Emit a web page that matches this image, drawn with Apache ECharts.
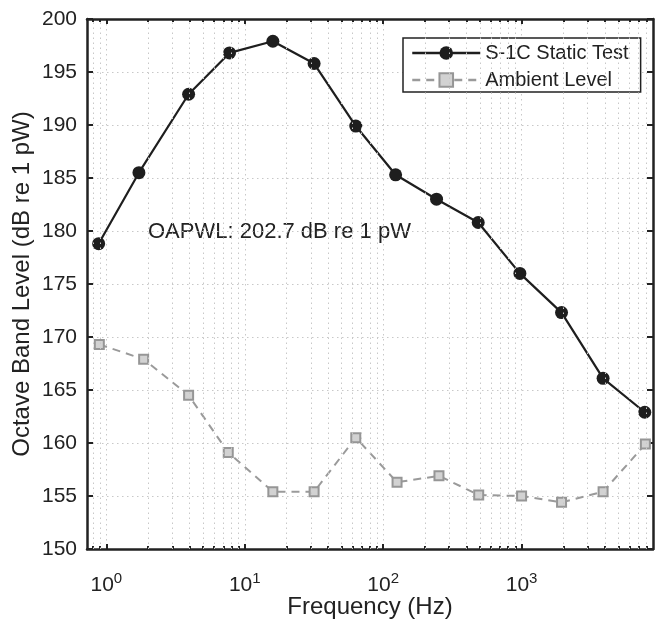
<!DOCTYPE html>
<html>
<head>
<meta charset="utf-8">
<script src="https://cdn.jsdelivr.net/npm/echarts@6/dist/echarts.min.js"></script>
<style>
  html, body { margin: 0; padding: 0; background: #fff; }
  #chart { width: 655px; height: 623px; }
</style>
</head>
<body>
<div id="chart"></div>
<script>
// ---- data ----
const staticFreq   = [0.88, 1.72, 3.93, 7.76, 15.96, 31.7, 63.4, 123, 243, 486, 972, 1944, 3880, 7760];
const staticLevel  = [178.8, 185.5, 192.9, 196.8, 197.9, 195.8, 189.9, 185.3, 183.0, 180.8, 176.0, 172.3, 166.1, 162.9];
const ambientFreq  = [0.89, 1.86, 3.93, 7.6, 15.96, 31.7, 63.4, 126, 253, 490, 1000, 1944, 3880, 7840];
const ambientLevel = [169.3, 167.9, 164.5, 159.1, 155.4, 155.4, 160.5, 156.3, 156.9, 155.1, 155.0, 154.4, 155.4, 159.9];
const majorXTicks  = [1, 10, 100, 1000];
const minorXTicks  = [0.8, 0.9, 2, 3, 4, 5, 6, 7, 8, 9, 20, 30, 40, 50, 60, 70, 80, 90,
                      200, 300, 400, 500, 600, 700, 800, 900, 2000, 3000, 4000, 5000, 6000, 7000, 8000];
const xMin = 0.725, xMax = 8900;
const yMin = 150, yMax = 200, yStep = 5;
const seriesNames = ['S-1C Static Test', 'Ambient Level'];
const annotation = 'OAPWL: 202.7 dB re 1 pW';

const FONT = '"Liberation Sans", Arial, Helvetica, sans-serif';
const INK = '#222';
const GRID = { color: '#c8c8c8', width: 1, type: [1.5, 3.5] };

function pair(xs, ys) { return xs.map((x, i) => [x, ys[i]]); }

const chart = echarts.init(document.getElementById('chart'), null, { renderer: 'canvas' });

const logAxisBase = { type: 'log', logBase: 10, min: xMin, max: xMax, gridIndex: 0 };

chart.setOption({
  animation: false,
  backgroundColor: '#fff',
  textStyle: { fontFamily: FONT },
  grid: { left: 87, right: 2, top: 19, bottom: 74, outerBoundsMode: 'none', containLabel: false },
  xAxis: [
    Object.assign({}, logAxisBase, {
      position: 'bottom',
      name: 'Frequency (Hz)',
      nameLocation: 'middle',
      nameGap: 46,
      nameMoveOverlap: false,
      nameTextStyle: { fontSize: 24, color: INK, fontFamily: FONT },
      axisLine: { show: true, onZero: false, lineStyle: { color: INK, width: 2.5 } },
      axisTick: { show: true, inside: true, length: 5, lineStyle: { color: INK, width: 2 }, customValues: majorXTicks },
      axisLabel: {
        show: true, margin: 22, customValues: majorXTicks,
        formatter: function (v) {
          const e = Math.round(Math.log10(v));
          return '{b|10}{s|' + e + '}';
        },
        rich: {
          b: { fontSize: 21, color: INK, fontFamily: FONT, verticalAlign: 'bottom' },
          s: { fontSize: 15, color: INK, fontFamily: FONT, verticalAlign: 'top', padding: [0, 0, 10, 0] }
        }
      },
      splitLine: { show: true, lineStyle: GRID }
    }),
    Object.assign({}, logAxisBase, {
      position: 'bottom',
      axisLine: { show: false },
      axisTick: { show: true, inside: true, length: 3, lineStyle: { color: INK, width: 2 }, customValues: minorXTicks },
      axisLabel: { show: false },
      splitLine: { show: false }
    }),
    Object.assign({}, logAxisBase, {
      position: 'top',
      axisLine: { show: true, onZero: false, lineStyle: { color: INK, width: 2.5 } },
      axisTick: { show: true, inside: true, length: 5, lineStyle: { color: INK, width: 2 }, customValues: majorXTicks },
      axisLabel: { show: false },
      splitLine: { show: false }
    }),
    Object.assign({}, logAxisBase, {
      position: 'top',
      axisLine: { show: false },
      axisTick: { show: true, inside: true, length: 3, lineStyle: { color: INK, width: 2 }, customValues: minorXTicks },
      axisLabel: { show: false },
      splitLine: { show: false }
    })
  ],
  yAxis: [
    {
      type: 'value', min: yMin, max: yMax, interval: yStep, position: 'left',
      name: 'Octave Band Level (dB re 1 pW)',
      nameLocation: 'middle',
      nameGap: 53,
      nameMoveOverlap: false,
      nameTextStyle: { fontSize: 24, color: INK, fontFamily: FONT },
      axisLine: { show: true, onZero: false, lineStyle: { color: INK, width: 2.5 } },
      axisTick: { show: true, inside: true, length: 6, lineStyle: { color: INK, width: 2 } },
      axisLabel: { show: true, margin: 10, fontSize: 21, color: INK, fontFamily: FONT },
      splitLine: { show: true, lineStyle: GRID }
    },
    {
      type: 'value', min: yMin, max: yMax, interval: yStep, position: 'right',
      axisLine: { show: true, onZero: false, lineStyle: { color: INK, width: 2.5 } },
      axisTick: { show: true, inside: true, length: 6, lineStyle: { color: INK, width: 2 } },
      axisLabel: { show: false },
      splitLine: { show: false }
    }
  ],
  legend: {
    orient: 'vertical',
    left: 403, top: 38,
    data: seriesNames,
    itemWidth: 68, itemHeight: 17, itemGap: 7,
    padding: [5, 12, 2, 8],
    backgroundColor: '#fff',
    borderColor: INK, borderWidth: 1.5, borderRadius: 0,
    lineStyle: { width: 2.5 },
    textStyle: { fontSize: 20, color: INK, fontFamily: FONT },
    selectedMode: false
  },
  graphic: [{
    type: 'text', left: 148, top: 221, silent: true,
    style: { text: annotation, fontSize: 22, fill: INK, fontFamily: FONT }
  }],
  series: [
    {
      name: 'minor-grid', type: 'line', data: [], silent: true, z: 1,
      markLine: {
        silent: true, symbol: ['none', 'none'], label: { show: false },
        lineStyle: GRID, animation: false,
        data: minorXTicks.map(v => ({ xAxis: v }))
      }
    },
    {
      name: seriesNames[1], type: 'line', z: 3,
      data: pair(ambientFreq, ambientLevel),
      symbol: 'rect', symbolSize: 9,
      lineStyle: { color: '#9a9a9a', width: 2, type: [8, 6] },
      itemStyle: { color: '#d2d2d2', borderColor: '#969696', borderWidth: 2 }
    },
    {
      name: seriesNames[0], type: 'line', z: 4,
      data: pair(staticFreq, staticLevel),
      symbol: 'circle', symbolSize: 13,
      lineStyle: { color: '#1e1e1e', width: 2.2 },
      itemStyle: { color: '#1e1e1e', borderColor: '#1e1e1e', borderWidth: 0 }
    }
  ]
});
</script>
</body>
</html>
